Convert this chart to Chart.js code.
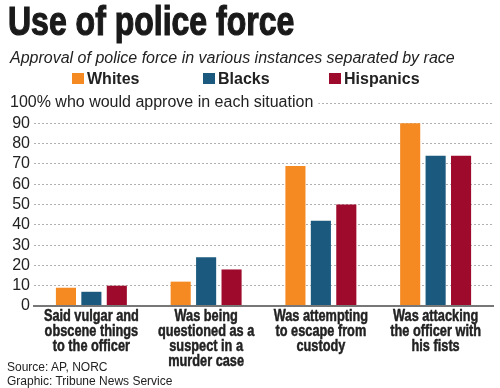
<!DOCTYPE html>
<html>
<head>
<meta charset="utf-8">
<script src="https://cdn.jsdelivr.net/npm/chart.js@4.4.1/dist/chart.umd.min.js"></script>
<style>
  html, body { margin: 0; padding: 0; background: #fff; }
  #wrap { position: relative; width: 500px; height: 388px; overflow: hidden; font-family: "Liberation Sans", Arial, sans-serif; color: #222; }
  #chartBox { position: absolute; left: 0; top: 0; width: 500px; height: 388px; }
  #title { position: absolute; left: 8px; top: 1px; font-family: "Liberation Sans", Arial, sans-serif; font-weight: bold; font-size: 40px; line-height: 40px; color: #1a1a1a; -webkit-text-stroke: 1.2px #1a1a1a; white-space: nowrap; transform: scaleX(0.8); transform-origin: 0 0; }
  #subtitle { position: absolute; left: 10px; top: 49px; font-style: italic; font-size: 16px; line-height: 17px; white-space: nowrap; }
  .legend-item { position: absolute; top: 71px; font-weight: bold; font-size: 16px; line-height: 16px; white-space: nowrap; padding-left: 15px; }
  .legend-item .box { position: absolute; left: 0; top: 2px; width: 12px; height: 11px; }
  #source { position: absolute; left: 7px; top: 361px; font-size: 12px; line-height: 13.5px; }
</style>
</head>
<body>
<div id="wrap">
  <div id="chartBox"><canvas id="barChart"></canvas></div>
  <div id="title">Use of police force</div>
  <div id="subtitle">Approval of police force in various instances separated by race</div>
  <div id="legend"></div>
  <div id="source">Source: AP, NORC<br>Graphic: Tribune News Service</div>
</div>
<script>
var categories = [
    ['Said vulgar and', 'obscene things', 'to the officer'],
    ['Was being', 'questioned as a', 'suspect in a', 'murder case'],
    ['Was attempting', 'to escape from', 'custody'],
    ['Was attacking', 'the officer with', 'his fists']
];
var seriesNames = ['Whites', 'Blacks', 'Hispanics'];
var whites = [9, 12, 69, 90];
var blacks = [7, 24, 42, 74];
var hispanics = [10, 18, 50, 74];
var seriesColors = ['#F58A22', '#1B5A7E', '#9E0A2B'];
var topAxisLabel = '100% who would approve in each situation';

var legendLefts = [72, 203, 329];

// custom legend up top
var legendEl = document.getElementById('legend');
seriesNames.forEach(function (name, i) {
    var item = document.createElement('div');
    item.className = 'legend-item';
    item.style.left = legendLefts[i] + 'px';
    item.innerHTML = '<span class="box" style="background:' + seriesColors[i] + '"></span>' + name;
    legendEl.appendChild(item);
});

// draws the "100% ..." label over the top grid line
var topLabel = {
    id: 'topLabel',
    afterDraw: function (chart) {
        var ctx = chart.ctx;
        var py = chart.scales.y.getPixelForValue(100);
        ctx.save();
        ctx.font = '16px "Liberation Sans", Arial, sans-serif';
        var w = ctx.measureText(topAxisLabel).width;
        ctx.fillStyle = '#fff';
        ctx.fillRect(0, py - 10, 10 + w + 5, 20);
        ctx.fillStyle = '#222';
        ctx.textBaseline = 'middle';
        ctx.fillText(topAxisLabel, 10, py - 0.5);
        ctx.restore();
    }
};

// condensed bold category labels (no narrow font installed, so squeeze it)
var condensedLabels = {
    id: 'condensedLabels',
    afterDraw: function (chart) {
        var ctx = chart.ctx;
        var xs = chart.scales.x;
        var squeeze = 0.75;
        ctx.save();
        ctx.font = 'bold 17px "Liberation Sans", Arial, sans-serif';
        ctx.fillStyle = '#222';
        ctx.strokeStyle = '#222';
        ctx.lineWidth = 0.5;
        ctx.textAlign = 'center';
        ctx.textBaseline = 'middle';
        chart.data.labels.forEach(function (lines, i) {
            var x = xs.getPixelForValue(i);
            lines.forEach(function (line, k) {
                ctx.save();
                ctx.translate(x, xs.top + 10.5 + k * 15);
                ctx.scale(squeeze, 1);
                ctx.fillText(line, 0, 0);
                ctx.strokeText(line, 0, 0);
                ctx.restore();
            });
        });
        ctx.restore();
    }
};

document.addEventListener('DOMContentLoaded', function () {
    var values = [whites, blacks, hispanics];
    var ctx = document.getElementById('barChart').getContext('2d');
    new Chart(ctx, {
        type: 'bar',
        data: {
            labels: categories,
            datasets: seriesNames.map(function (name, i) {
                return {
                    label: name,
                    data: values[i],
                    backgroundColor: seriesColors[i],
                    categoryPercentage: 0.665,
                    barPercentage: 0.79
                };
            })
        },
        options: {
            responsive: true,
            maintainAspectRatio: false,
            animation: false,
            layout: { padding: { top: 103, right: 7, left: 0, bottom: 0 } },
            plugins: {
                legend: { display: false },
                tooltip: { enabled: false }
            },
            scales: {
                x: {
                    grid: { display: false },
                    border: { color: '#777', width: 2, z: 1 },
                    ticks: { display: false },
                    afterFit: function (scale) { scale.height = 82; }
                },
                y: {
                    min: 0,
                    max: 100,
                    ticks: {
                        stepSize: 10,
                        autoSkip: false,
                        color: '#222',
                        padding: 4,
                        font: { family: '"Liberation Sans", Arial, sans-serif', size: 16 },
                        callback: function (v) { return v === 100 ? '' : v; }
                    },
                    grid: { color: '#b0b0b0', lineWidth: 1, drawTicks: false },
                    border: { display: false, dash: [2, 2] },
                    afterFit: function (scale) { scale.width = 34; }
                }
            }
        },
        plugins: [topLabel, condensedLabels]
    });
});
</script>
</body>
</html>
